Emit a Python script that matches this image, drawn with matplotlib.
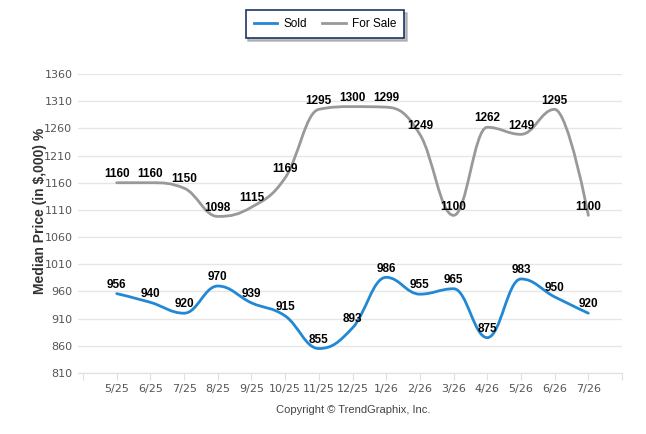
import numpy as np
import matplotlib
matplotlib.use('Agg')
import matplotlib.pyplot as plt
from matplotlib.path import Path
from matplotlib.patches import PathPatch
from matplotlib.lines import Line2D

months = ['5/25', '6/25', '7/25', '8/25', '9/25', '10/25', '11/25', '12/25',
          '1/26', '2/26', '3/26', '4/26', '5/26', '6/26', '7/26']
sold = [956, 940, 920, 970, 939, 915, 855, 893, 986, 955, 965, 875, 983, 950, 920]
for_sale = [1160, 1160, 1150, 1098, 1115, 1169, 1295, 1300, 1299, 1249, 1100,
            1262, 1249, 1295, 1100]
y_ticks = [810, 860, 910, 960, 1010, 1060, 1110, 1160, 1210, 1260, 1310, 1360]

SOLD_COLOR = '#2288d4'
SALE_COLOR = '#999999'
NARROW = ['Liberation Sans Narrow', 'DejaVu Sans Condensed']


def spline_path(xs, ys, smoothing=1.5):
	# highcharts-style spline: cubic bezier with control points from neighbours
	denom = smoothing + 1
	verts = [(xs[0], ys[0])]
	codes = [Path.MOVETO]
	n = len(xs)
	ctrl = []
	for i in range(n):
		if i == 0 or i == n - 1:
			ctrl.append(((xs[i], ys[i]), (xs[i], ys[i])))
			continue
		lx = (smoothing * xs[i] + xs[i - 1]) / denom
		ly = (smoothing * ys[i] + ys[i - 1]) / denom
		rx = (smoothing * xs[i] + xs[i + 1]) / denom
		ry = (smoothing * ys[i] + ys[i + 1]) / denom
		if rx != lx:
			corr = (ry - ly) * (rx - xs[i]) / (rx - lx) + ys[i] - ry
			ly += corr
			ry += corr
		if ly > ys[i - 1] and ly > ys[i]:
			ly = max(ys[i - 1], ys[i])
			ry = 2 * ys[i] - ly
		elif ly < ys[i - 1] and ly < ys[i]:
			ly = min(ys[i - 1], ys[i])
			ry = 2 * ys[i] - ly
		if ry > ys[i + 1] and ry > ys[i]:
			ry = max(ys[i + 1], ys[i])
			ly = 2 * ys[i] - ry
		elif ry < ys[i + 1] and ry < ys[i]:
			ry = min(ys[i + 1], ys[i])
			ly = 2 * ys[i] - ry
		ctrl.append(((lx, ly), (rx, ry)))
	for i in range(1, n):
		verts += [ctrl[i - 1][1], ctrl[i][0], (xs[i], ys[i])]
		codes += [Path.CURVE4] * 3
	return Path(verts, codes)


fig = plt.figure(figsize=(6.46, 4.34), dpi=100)
ax = fig.add_axes([78 / 646, 61 / 434, 544 / 646, 299 / 434])

x = np.arange(len(months))

for vals, col in [(for_sale, SALE_COLOR), (sold, SOLD_COLOR)]:
	p = spline_path(list(x), list(vals))
	ax.add_patch(PathPatch(p, facecolor='none', edgecolor=col, lw=2, capstyle='round', zorder=3))
	for xi, v in zip(x, vals):
		ax.annotate(str(v), (xi, v), xytext=(0, 2), textcoords='offset points',
			ha='center', va='bottom', fontsize=8.5, fontweight='bold',
			family='Liberation Sans', color='black', zorder=5)

ax.set_xlim(-1.15, 15)
ax.set_ylim(810, 1360)
ax.set_yticks(y_ticks)
ax.set_yticklabels([str(t) for t in y_ticks], family=NARROW, fontsize=8, color='#555555')
ax.set_xticks(list(range(-1, 16)))
ax.set_xticklabels([''] + months + [''], family=NARROW, fontsize=8, color='#555555')
ax.tick_params(axis='y', length=0, pad=4)
ax.tick_params(axis='x', length=5, color='#e0e0e0', pad=3)
ax.grid(axis='y', color='#e6e6e6', lw=1)
ax.set_axisbelow(True)
for s in ['top', 'right', 'left']:
	ax.spines[s].set_visible(False)
ax.spines['bottom'].set_color('#e0e0e0')

fig.text(40 / 646, 1 - 211 / 434, 'Median Price (in $,000) %', rotation=90, ha='center', va='center',
	fontsize=10, fontweight='bold', color='#333333', family='Liberation Sans')
fig.text(353 / 646, 1 - 410 / 434, 'Copyright \u00a9 TrendGraphix, Inc.', ha='center', va='center',
	fontsize=8, color='#444444', family='Liberation Sans')

handles = [Line2D([], [], color=SOLD_COLOR, lw=2), Line2D([], [], color=SALE_COLOR, lw=2)]
leg = fig.legend(handles, ['Sold', 'For Sale'], loc='center', bbox_to_anchor=(325 / 646, 1 - 24 / 434),
	ncol=2, frameon=True, fancybox=False, shadow={'color': '#999999', 'alpha': 0.6},
	prop={'family': 'Liberation Sans', 'size': 8.5}, handlelength=2.0, columnspacing=1.3,
	borderpad=0.7, handletextpad=0.5)
leg.get_frame().set_edgecolor('#1c3566')
leg.get_frame().set_linewidth(1.2)

fig.savefig('out.png', dpi=100)
